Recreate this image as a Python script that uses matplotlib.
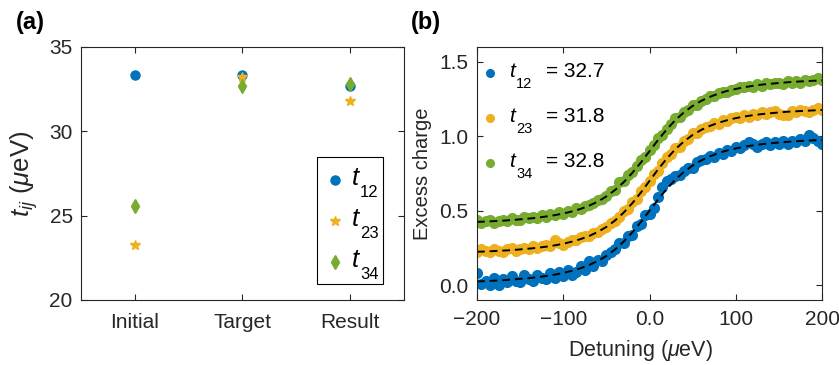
import numpy as np
import matplotlib
matplotlib.use('Agg')
from matplotlib import pyplot as plt
from matplotlib.patches import Rectangle
from matplotlib.lines import Line2D

plt.rcParams['font.family'] = ['Liberation Sans', 'DejaVu Sans']
plt.rcParams['mathtext.fontset'] = 'custom'
plt.rcParams['mathtext.rm'] = 'Liberation Sans'
plt.rcParams['mathtext.it'] = 'Liberation Sans:italic'
plt.rcParams['mathtext.bf'] = 'Liberation Sans:bold'

TXT = '#262626'
BLUE = '#0072BD'
YELLOW = '#EDB120'
GREEN = '#77AC30'

# (a) tunnel couplings
stages = ['Initial', 'Target', 'Result']
t12 = [33.35, 33.35, 32.7]
t23 = [23.25, 33.2, 31.8]
t34 = [25.6, 32.7, 32.8]

# (b) charge transitions, measured points every 5 ueV
detuning = np.arange(-200, 201, 5)
q12 = [0.08, 0.01, 0.03, 0.00, 0.05, 0.00, 0.04, 0.02, 0.06, 0.03,
       0.02, 0.07, 0.04, 0.03, 0.07, 0.05, 0.04, 0.08, 0.05, 0.09,
       0.06, 0.10, 0.07, 0.09, 0.13, 0.10, 0.16, 0.13, 0.17, 0.16,
       0.20, 0.22, 0.24, 0.28, 0.28, 0.33, 0.34, 0.40, 0.41, 0.47,
       0.48, 0.52, 0.59, 0.66, 0.70, 0.71, 0.73, 0.74, 0.77, 0.79,
       0.79, 0.83, 0.84, 0.85, 0.87, 0.86, 0.89, 0.88, 0.91, 0.90,
       0.93, 0.92, 0.94, 0.96, 0.95, 0.93, 0.95, 0.96, 0.94, 0.96,
       0.95, 0.97, 0.95, 0.97, 0.96, 0.98, 0.97, 1.01, 0.99, 0.97,
       0.95]
q23 = [0.22, 0.24, 0.23, 0.22, 0.24, 0.23, 0.22, 0.24, 0.25, 0.23,
       0.24, 0.25, 0.24, 0.26, 0.25, 0.26, 0.27, 0.26, 0.30, 0.28,
       0.27, 0.29, 0.30, 0.30, 0.32, 0.33, 0.33, 0.35, 0.36, 0.38,
       0.39, 0.42, 0.43, 0.46, 0.50, 0.51, 0.56, 0.58, 0.63, 0.66,
       0.70, 0.75, 0.77, 0.82, 0.86, 0.88, 0.92, 0.93, 0.97, 0.98,
       1.02, 1.02, 1.05, 1.06, 1.07, 1.09, 1.08, 1.11, 1.10, 1.12,
       1.13, 1.12, 1.14, 1.13, 1.15, 1.14, 1.16, 1.15, 1.16, 1.17,
       1.15, 1.14, 1.14, 1.17, 1.16, 1.18, 1.17, 1.16, 1.18, 1.19,
       1.18]
q34 = [0.44, 0.42, 0.43, 0.44, 0.42, 0.43, 0.44, 0.43, 0.45, 0.44,
       0.44, 0.46, 0.45, 0.46, 0.45, 0.47, 0.46, 0.48, 0.47, 0.49,
       0.48, 0.50, 0.49, 0.52, 0.51, 0.53, 0.54, 0.55, 0.57, 0.58,
       0.60, 0.63, 0.64, 0.69, 0.70, 0.74, 0.76, 0.80, 0.84, 0.86,
       0.91, 0.94, 0.99, 1.01, 1.05, 1.08, 1.12, 1.13, 1.16, 1.18,
       1.21, 1.21, 1.24, 1.25, 1.27, 1.27, 1.29, 1.30, 1.30, 1.31,
       1.32, 1.33, 1.33, 1.34, 1.33, 1.35, 1.34, 1.36, 1.35, 1.36,
       1.36, 1.35, 1.37, 1.36, 1.37, 1.36, 1.38, 1.37, 1.38, 1.39,
       1.38]

# fitted curves, every 10 ueV
fit_x = np.arange(-200, 201, 10)
fit12 = [0.025, 0.027, 0.030, 0.033, 0.037, 0.042, 0.047, 0.053, 0.061, 0.070,
         0.082, 0.096, 0.113, 0.135, 0.162, 0.196, 0.239, 0.292, 0.354, 0.424,
         0.500, 0.576, 0.646, 0.709, 0.761, 0.804, 0.838, 0.865, 0.887, 0.905,
         0.918, 0.930, 0.939, 0.947, 0.953, 0.958, 0.963, 0.967, 0.970, 0.973,
         0.975]
fit23 = [0.224, 0.226, 0.229, 0.232, 0.235, 0.240, 0.245, 0.251, 0.258, 0.267,
         0.278, 0.292, 0.309, 0.330, 0.357, 0.391, 0.434, 0.487, 0.550, 0.622,
         0.700, 0.778, 0.850, 0.913, 0.966, 1.009, 1.043, 1.070, 1.091, 1.108,
         1.122, 1.133, 1.142, 1.149, 1.155, 1.160, 1.165, 1.168, 1.171, 1.174,
         1.177]
fit34 = [0.425, 0.427, 0.430, 0.433, 0.437, 0.442, 0.447, 0.453, 0.461, 0.470,
         0.481, 0.495, 0.512, 0.534, 0.561, 0.596, 0.639, 0.691, 0.754, 0.824,
         0.900, 0.976, 1.046, 1.109, 1.161, 1.204, 1.238, 1.265, 1.287, 1.305,
         1.318, 1.330, 1.339, 1.347, 1.353, 1.358, 1.363, 1.367, 1.370, 1.373,
         1.375]
subs = ['12', '23', '34']
fit_vals = ['32.7', '31.8', '32.8']

W, H = 839, 365
fig = plt.figure(figsize=(W / 100, H / 100), dpi=100)
ax1 = fig.add_axes([81 / W, 65 / H, 323 / W, 253 / H])
ax2 = fig.add_axes([477 / W, 65 / H, 345 / W, 253 / H])


def fx(px):
    return px / W


def fy(py):
    return 1 - py / H


for ax in (ax1, ax2):
    for s in ax.spines.values():
        s.set_color(TXT)
        s.set_linewidth(0.8)
    ax.tick_params(direction='in', top=True, right=True, colors=TXT,
                   labelsize=15, length=4, width=0.8, pad=6)

# --- (a)
xpos = np.arange(1, len(stages) + 1)
ax1.plot(xpos, t12, 'o', color=BLUE, ms=6.5, ls='none')
ax1.plot(xpos, t23, '*', color=YELLOW, ms=7.5, ls='none')
ax1.plot(xpos, t34, 'd', color=GREEN, ms=7, ls='none')
ax1.set_xlim(0.5, 3.5)
ax1.set_ylim(20, 35)
ax1.set_xticks(xpos)
ax1.set_xticklabels(stages)
ax1.tick_params(axis='x', pad=9.5)
ax1.set_yticks([20, 25, 30, 35])
ax1.set_ylabel(r'$t_{ij}$ ($\mathit{\mu}$eV)', fontsize=18.5, color=TXT, labelpad=7)

# legend of (a), drawn by hand to get the low subscripts
fig.add_artist(Rectangle((fx(317), fy(284)), fx(383) - fx(317), fy(157) - fy(284),
                         transform=fig.transFigure, fill=False, ec='black', lw=0.8))
for i, (m, c, ms) in enumerate([('o', BLUE, 6.5), ('*', YELLOW, 7.5), ('d', GREEN, 7)]):
    yc = 180 + 41 * i
    fig.add_artist(Line2D([fx(335)], [fy(yc)], marker=m, color=c, ms=ms, ls='none',
                          transform=fig.transFigure))
    fig.text(fx(352), fy(yc + 5), 't', style='italic', fontsize=18.5, color='black',
             va='baseline')
    fig.text(fx(360), fy(yc + 17), subs[i], fontsize=12, color='black', va='baseline')

fig.text(fx(16), fy(29), '(a)', fontsize=17, fontweight='bold', color='black',
         va='baseline')

# --- (b)
for q, c in [(q12, BLUE), (q23, YELLOW), (q34, GREEN)]:
    ax2.plot(detuning, q, 'o', color=c, ms=7, ls='none')
for fit in (fit12, fit23, fit34):
    ax2.plot(fit_x, fit, color='black', lw=1.4, dashes=(4, 2.5))
ax2.set_xlim(-200, 200)
ax2.set_ylim(-0.1, 1.6)
ax2.set_xticks([-200, -100, 0, 100, 200])
ax2.set_xticklabels(['\u2212200', '\u2212100', '0.0', '100', '200'])
ax2.set_yticks([0, 0.5, 1.0, 1.5])
ax2.set_yticklabels(['0.0', '0.5', '1.0', '1.5'])
ax2.tick_params(axis='x', pad=7)
ax2.set_xlabel(r'Detuning ($\mathit{\mu}$eV)', fontsize=15.5, color=TXT)
ax2.xaxis.set_label_coords(0.4725, -0.15)
ax2.set_ylabel('Excess charge', fontsize=14.5, color=TXT, labelpad=5)

for i, c in enumerate([BLUE, YELLOW, GREEN]):
    yc = 73 + 45 * i
    fig.add_artist(Line2D([fx(490)], [fy(yc)], marker='o', color=c, ms=5.5, ls='none',
                          transform=fig.transFigure))
    fig.text(fx(509), fy(yc + 4), 't', style='italic', fontsize=15, color='black',
             va='baseline')
    fig.text(fx(516), fy(yc + 15), subs[i], fontsize=10.5, color='black', va='baseline')
    fig.text(fx(546), fy(yc + 4), '= ' + fit_vals[i], fontsize=15, color='black',
             va='baseline')

fig.text(fx(411), fy(29), '(b)', fontsize=17, fontweight='bold', color='black',
         va='baseline')

fig.savefig('out.png', dpi=100)
